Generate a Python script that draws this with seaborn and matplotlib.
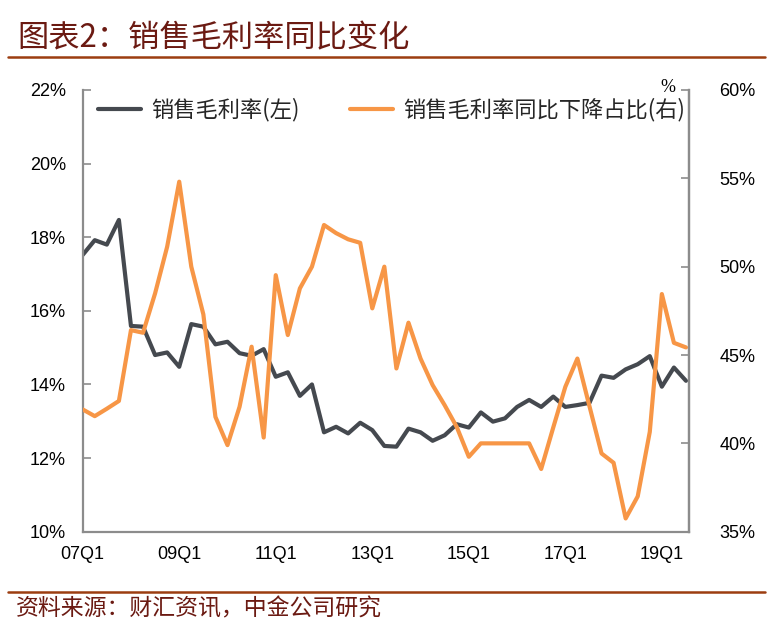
import numpy as np
import pandas as pd
import matplotlib
matplotlib.use("Agg")
import matplotlib.pyplot as plt
from matplotlib.lines import Line2D
from matplotlib.ticker import FuncFormatter, MultipleLocator
import seaborn as sns

# ---------------- data ----------------
quarters = [f"{y:02d}Q{q}" for y in range(7, 20) for q in range(1, 5)][:51]

gross_margin = [17.52, 17.92, 17.80, 18.47, 15.59, 15.57, 14.80, 14.87, 14.48, 15.64,
                15.57, 15.09, 15.16, 14.85, 14.78, 14.96, 14.21, 14.33, 13.69, 14.00,
                12.70, 12.85, 12.67, 12.96, 12.76, 12.33, 12.31, 12.80, 12.70, 12.47,
                12.62, 12.92, 12.83, 13.24, 12.99, 13.08, 13.39, 13.58, 13.39, 13.67,
                13.39, 13.44, 13.50, 14.24, 14.18, 14.41, 14.55, 14.77, 13.94, 14.46,
                14.10]

decline_share = [41.92, 41.54, 41.96, 42.40, 46.41, 46.26, 48.49, 51.13, 54.81, 50.00,
                 47.30, 41.50, 39.90, 42.07, 45.47, 40.33, 49.52, 46.13, 48.77, 50.00,
                 52.36, 51.90, 51.55, 51.35, 47.64, 50.00, 44.24, 46.83, 44.80, 43.30,
                 42.16, 40.93, 39.24, 40.00, 40.00, 40.00, 40.00, 40.00, 38.55, 40.90,
                 43.20, 44.80, 42.10, 39.43, 38.90, 35.75, 37.00, 40.65, 48.45, 45.69,
                 45.43]

label_quarters = ["07Q1", "09Q1", "11Q1", "13Q1", "15Q1", "17Q1", "19Q1"]
left_ticks = [10, 12, 14, 16, 18, 20, 22]
right_ticks = [35, 40, 45, 50, 55, 60]

series_names = ["销售毛利率(左)", "销售毛利率同比下降占比(右)"]
title_text = "图表2：销售毛利率同比变化"
source_text = "资料来源：财汇资讯，中金公司研究"

df = pd.DataFrame({"quarter": quarters,
                   "pos": np.arange(len(quarters)),
                   "margin": gross_margin,
                   "share": decline_share})

# ---------------- style ----------------
sns.set_style("white")
plt.rcParams["font.family"] = ["Liberation Sans", "Noto Sans CJK SC", "DejaVu Sans"]

DARK = "#45494f"
ORANGE = "#f79646"
SPINE = "#8c8c8c"
RED = "#6b1a12"
RULE = "#9c3d10"
cjk = ["Noto Sans CJK SC", "DejaVu Sans"]

fig = plt.figure(figsize=(7.72, 6.31), dpi=100)
ax = fig.add_axes([82.7 / 772, 1 - 531.7 / 631, (689 - 82.7) / 772, (531.7 - 90) / 631])
ax2 = ax.twinx()

sns.lineplot(data=df, x="pos", y="margin", ax=ax, color=DARK, lw=3.0,
             label=series_names[0], legend=False)
sns.lineplot(data=df, x="pos", y="share", ax=ax2, color=ORANGE, lw=3.0,
             label=series_names[1], legend=False)

ax.set_xlim(0, 50.25)
ax.set_ylim(left_ticks[0], left_ticks[-1])
ax2.set_ylim(right_ticks[0], right_ticks[-1])

ax.set_yticks(left_ticks)
ax2.set_yticks(right_ticks)
ax.yaxis.set_major_formatter(FuncFormatter(lambda v, p: f"{v:.0f}%"))
ax2.yaxis.set_major_formatter(FuncFormatter(lambda v, p: f"{v:.0f}%"))

label_pos = [quarters.index(q) for q in label_quarters]
ax.set_xticks(label_pos)
ax.set_xticklabels(label_quarters)
ax.xaxis.set_minor_locator(MultipleLocator(1))

for a in (ax, ax2):
    a.set_xlabel("")
    a.set_ylabel("")
    for s in a.spines.values():
        s.set_color(SPINE)
        s.set_linewidth(1.6)
    a.spines["top"].set_visible(False)
    a.grid(False)

ax.tick_params(axis="x", which="both", direction="in", length=4, width=1.2,
               color=SPINE, labelsize=13, pad=10, labelcolor="black")
ax.tick_params(axis="y", direction="in", length=6, width=1.2, color=SPINE,
               labelsize=13, pad=12, labelcolor="black")
ax2.tick_params(axis="y", direction="in", length=6, width=1.2, color=SPINE,
                labelsize=13, pad=22, labelcolor="black")
ax2.spines["left"].set_visible(False)
ax2.spines["bottom"].set_visible(False)

# legend
handles = [Line2D([], [], color=DARK, lw=3.0), Line2D([], [], color=ORANGE, lw=3.0)]
leg = ax.legend(handles, series_names, loc="upper left", bbox_to_anchor=(-0.008, 1.027),
                ncol=2, frameon=False, handlelength=1.95, handletextpad=0.45,
                columnspacing=2.25, prop={"family": cjk, "size": 16})

# unit label on right axis
fig.text(660 / 772, 1 - 88 / 631, "%", fontsize=13, color="black", ha="left", va="center",
         family=["Liberation Serif", "DejaVu Serif"])

# title, rules, source
fig.text(17 / 772, 1 - 38 / 631, title_text, fontsize=22.5, color=RED, ha="left",
         va="center", family=cjk)
fig.add_artist(Line2D([8 / 772, 765 / 772], [1 - 57 / 631, 1 - 57 / 631],
                      color=RULE, lw=1.8, transform=fig.transFigure))
fig.add_artist(Line2D([8 / 772, 765 / 772], [1 - 592 / 631, 1 - 592 / 631],
                      color=RULE, lw=1.8, transform=fig.transFigure))
fig.text(16 / 772, 1 - 609 / 631, source_text, fontsize=16.5, color=RED, ha="left",
         va="center", family=cjk)

fig.savefig("out.png", dpi=100)
